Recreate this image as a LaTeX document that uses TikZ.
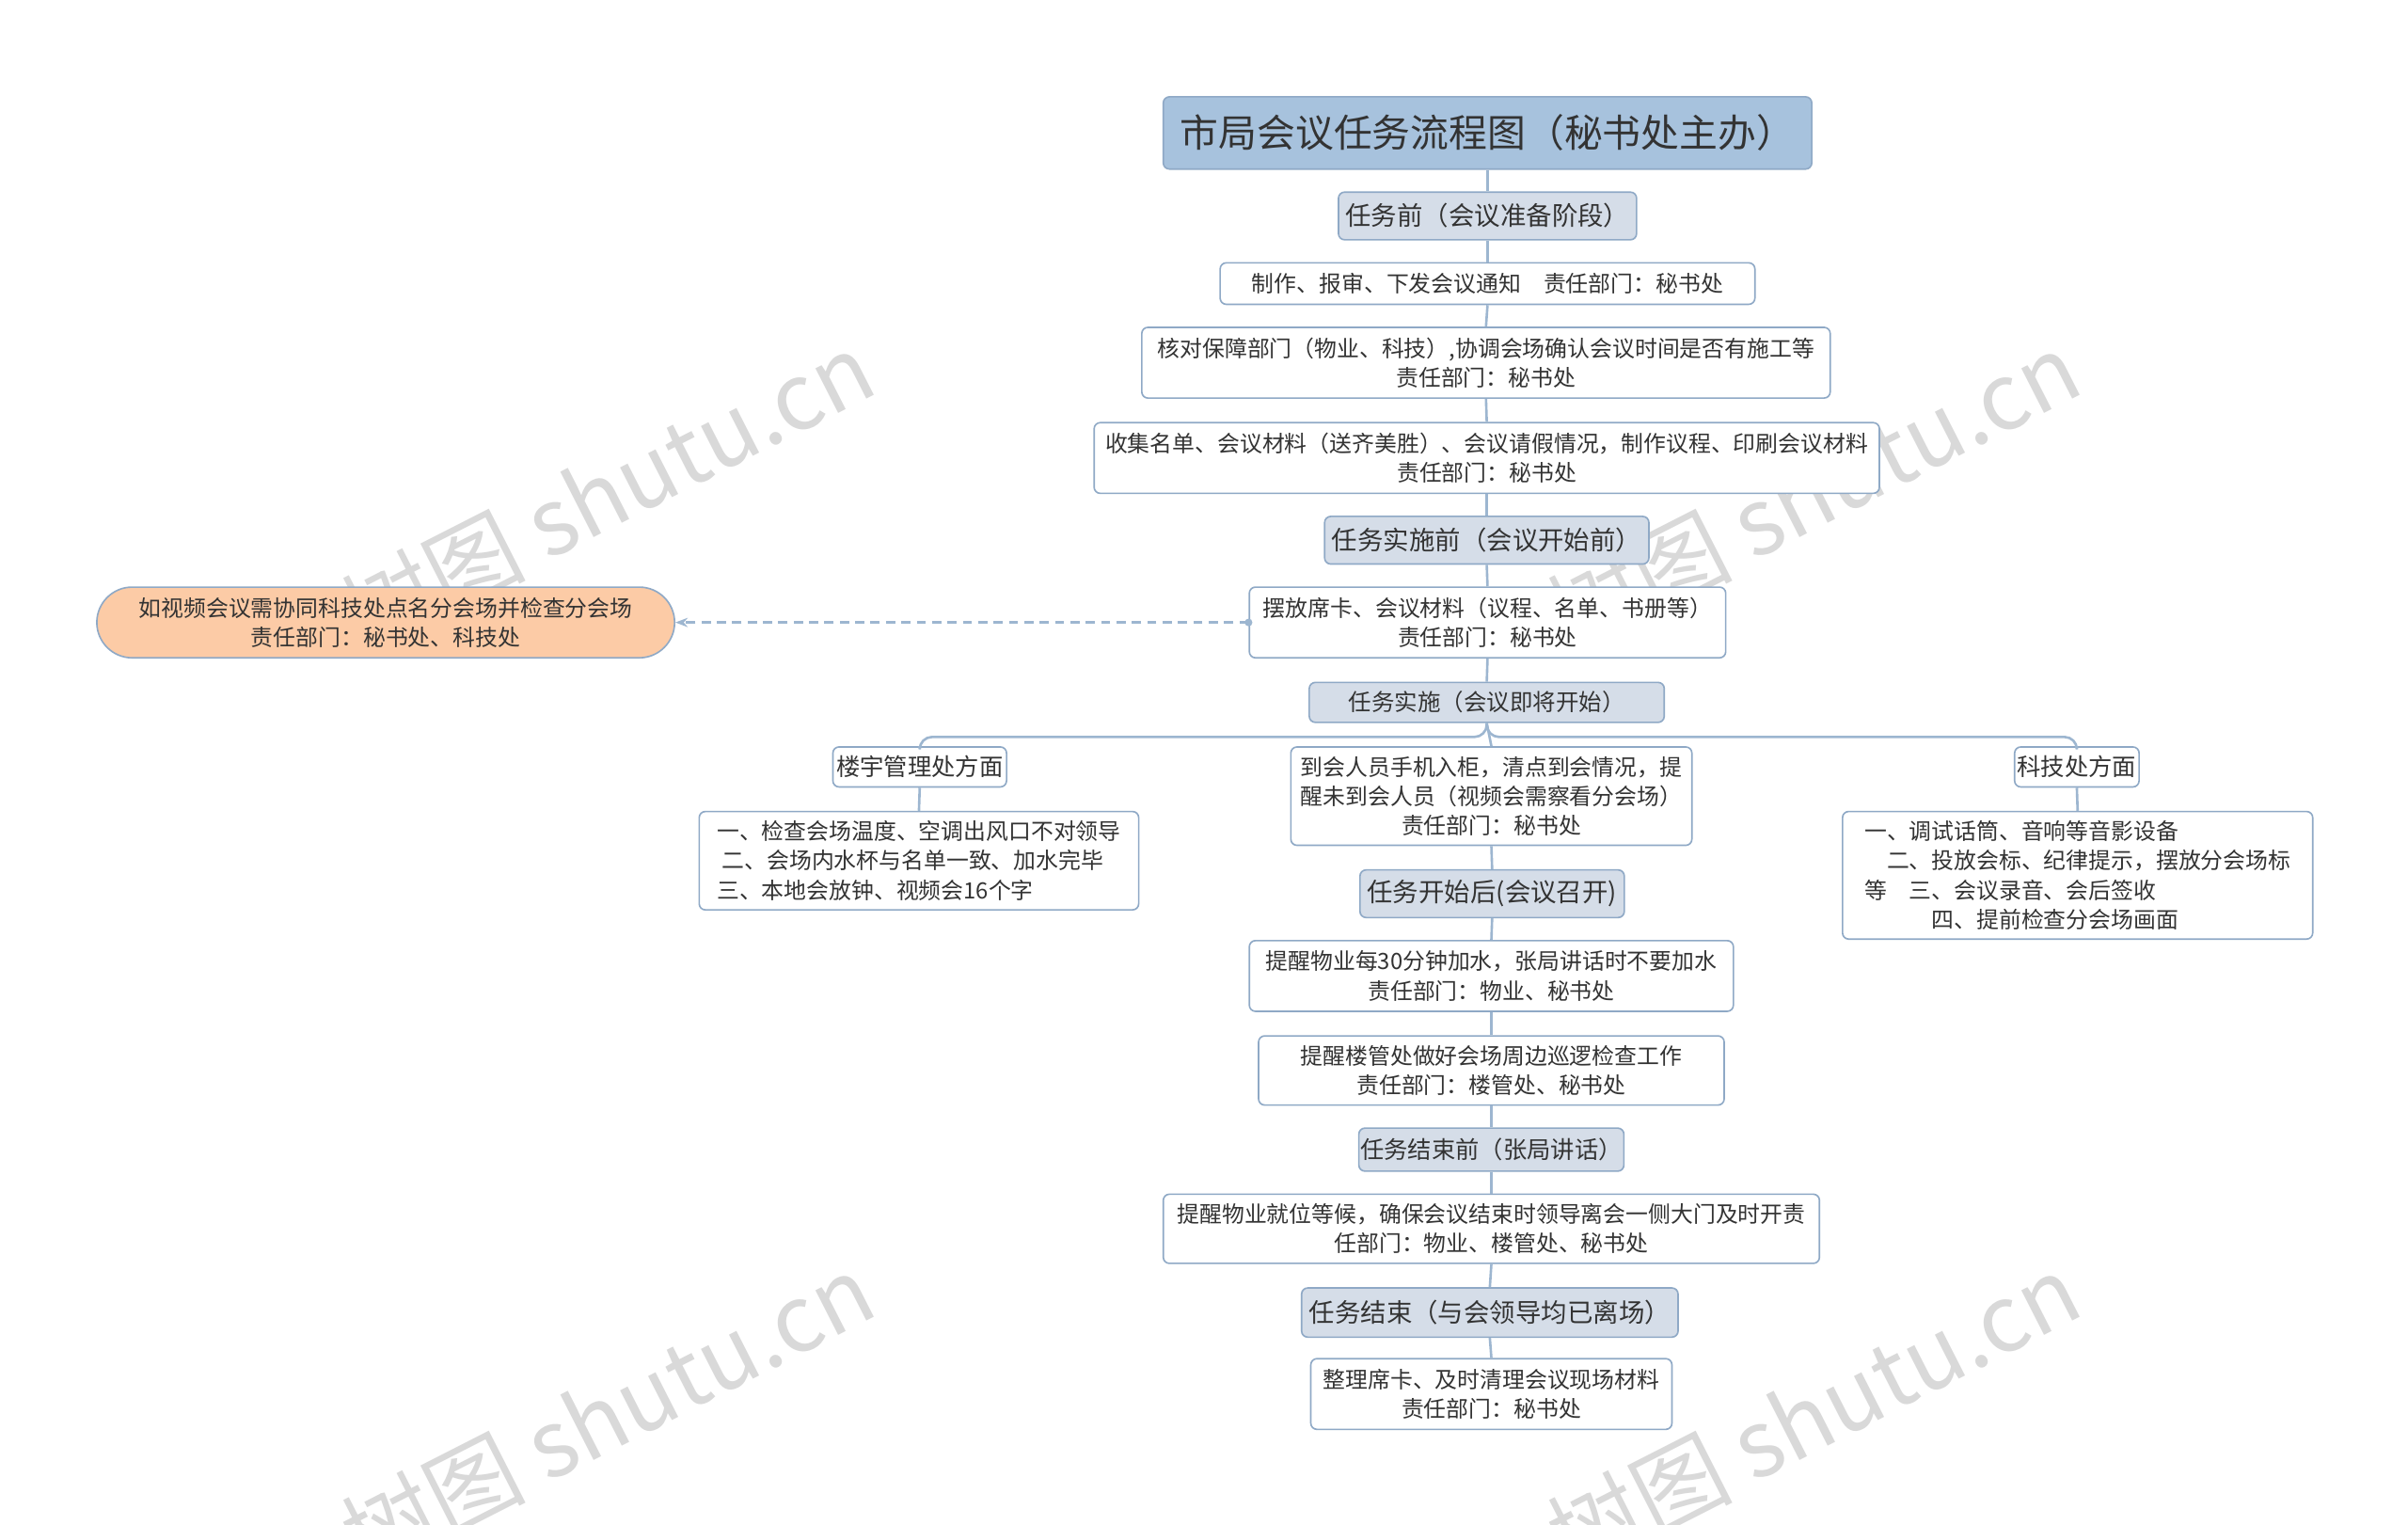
\documentclass[tikz,border=0pt]{standalone}
\usepackage{fontspec}
\setmainfont{Noto Sans CJK SC}
\usetikzlibrary{arrows.meta}
\definecolor{ln}{HTML}{9DB6D0}
\definecolor{bd}{HTML}{8FA9C6}
\definecolor{titlef}{HTML}{A7C2DD}
\definecolor{topf}{HTML}{D5DDE8}
\definecolor{orf}{HTML}{FCCBA6}
\definecolor{txt}{HTML}{333333}
\begin{document}
\begin{tikzpicture}[x=1pt,y=-1pt,
  base/.style={draw=bd,line width=1pt,rounded corners=4pt,inner sep=1pt,text=txt,align=center},
  leaf/.style={base,fill=white,font=\fontsize{14.6}{19}\selectfont},
  topic/.style={base,fill=topf,font=\fontsize{16.8}{20}\selectfont},
  conn/.style={draw=ln,line width=1.6pt},
  wm/.style={text=gray!30,rotate=27,font=\fontsize{60}{60}\selectfont}]
\fill[white] (0,0) rectangle (1567,992);
\useasboundingbox (0,0) rectangle (1567,992);
\node[wm] at (395,320) {树图 shutu.cn};
\node[wm] at (1180,320) {树图 shutu.cn};
\node[wm] at (395,920) {树图 shutu.cn};
\node[wm] at (1180,920) {树图 shutu.cn};

\node[base,fill=titlef,minimum width=422,minimum height=47,font=\fontsize{25}{28}\selectfont] (t) at (968,86.5) {市局会议任务流程图（秘书处主办）};
\node[topic,minimum width=194,minimum height=31] (p1) at (968,140.5) {任务前（会议准备阶段）};
\node[leaf,minimum width=348,minimum height=27] (a1) at (968,184.5) {制作、报审、下发会议通知　责任部门：秘书处};
\node[leaf,minimum width=448,minimum height=46] (a2) at (967,236) {核对保障部门（物业、科技）,协调会场确认会议时间是否有施工等\\责任部门：秘书处};
\node[leaf,minimum width=511,minimum height=46] (a3) at (967.5,298) {收集名单、会议材料（送齐美胜）、会议请假情况，制作议程、印刷会议材料\\责任部门：秘书处};
\node[topic,minimum width=211,minimum height=31] (p2) at (967.5,351.5) {任务实施前（会议开始前）};
\node[leaf,minimum width=310,minimum height=46] (b1) at (968,405) {摆放席卡、会议材料（议程、名单、书册等）\\责任部门：秘书处};
\node[base,fill=orf,rounded corners=23pt,minimum width=376,minimum height=46,font=\fontsize{14.6}{19}\selectfont] (o) at (251,405) {如视频会议需协同科技处点名分会场并检查分会场\\责任部门：秘书处、科技处};
\node[topic,minimum width=231,minimum height=26,font=\fontsize{15}{18}\selectfont] (p3) at (967.5,457) {任务实施（会议即将开始）};
\node[leaf,minimum width=113,minimum height=26,font=\fontsize{15.5}{18}\selectfont] (l) at (598.5,499) {楼宇管理处方面};
\node[leaf,minimum width=286,minimum height=64,align=left] (lb) at (598,560) {一、检查会场温度、空调出风口不对领导\\\ 二、会场内水杯与名单一致、加水完毕\\三、本地会放钟、视频会16个字};
\node[leaf,minimum width=261,minimum height=64] (m) at (970.5,518) {到会人员手机入柜，清点到会情况，提\\醒未到会人员（视频会需察看分会场）\\责任部门：秘书处};
\node[leaf,minimum width=81,minimum height=26,font=\fontsize{15.5}{18}\selectfont] (r) at (1351.5,499) {科技处方面};
\node[leaf,minimum width=306,minimum height=83,align=left] (rb) at (1352,569.5) {一、调试话筒、音响等音影设备\\\quad 二、投放会标、纪律提示，摆放分会场标\\等\quad 三、会议录音、会后签收\\\qquad\quad 四、提前检查分会场画面};
\node[topic,minimum width=172,minimum height=31] (p4) at (971,581.5) {任务开始后(会议召开)};
\node[leaf,minimum width=315,minimum height=46] (c1) at (970.5,635) {提醒物业每30分钟加水，张局讲话时不要加水\\责任部门：物业、秘书处};
\node[leaf,minimum width=303,minimum height=45] (c2) at (970.5,696.5) {提醒楼管处做好会场周边巡逻检查工作\\责任部门：楼管处、秘书处};
\node[topic,minimum width=171,minimum height=28,font=\fontsize{15.5}{18}\selectfont] (p5) at (970.5,748) {任务结束前（张局讲话）};
\node[leaf,minimum width=427,minimum height=45] (d1) at (970.5,799.5) {提醒物业就位等候，确保会议结束时领导离会一侧大门及时开责\\任部门：物业、楼管处、秘书处};
\node[topic,minimum width=245,minimum height=32] (p6) at (969.5,854) {任务结束（与会领导均已离场）};
\node[leaf,minimum width=235,minimum height=46] (e1) at (970.5,907) {整理席卡、及时清理会议现场材料\\责任部门：秘书处};

\foreach \u/\v in {t/p1,p1/a1,a1/a2,a2/a3,a3/p2,p2/b1,b1/p3,p3/m,m/p4,p4/c1,c1/c2,c2/p5,p5/d1,d1/p6,p6/e1,l/lb,r/rb}
  \draw[conn] (\u.south) -- (\v.north);
\draw[conn,rounded corners=8pt] (p3.south) -- ++(0,9) -| (l.north);
\draw[conn,rounded corners=8pt] (p3.south) -- ++(0,9) -| (r.north);
\draw[conn,dashed,dash pattern=on 6pt off 4pt,-{Stealth[length=8pt]}] (b1.west) -- (o.east);
\fill[ln] (b1.west) circle (2.5pt);
\end{tikzpicture}
\end{document}
